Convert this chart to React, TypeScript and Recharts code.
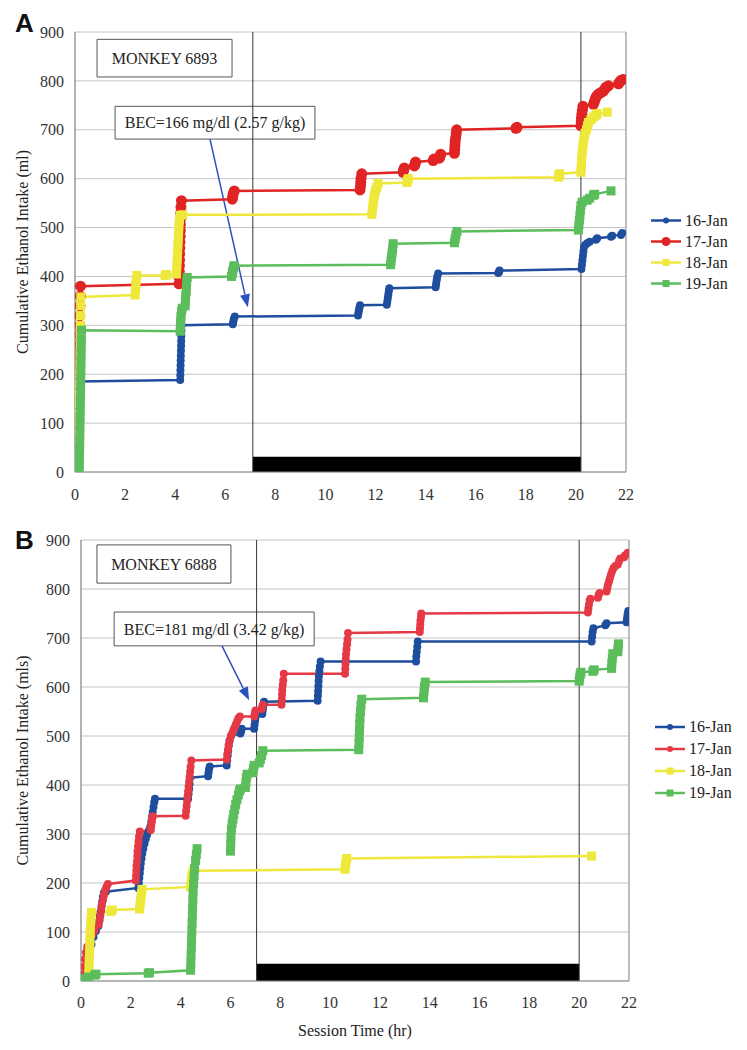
import React from 'react';
import {
  LineChart, Line, XAxis, YAxis, CartesianGrid, ReferenceLine, ReferenceArea, Legend,
} from 'recharts';

type P = [number, number | null];

// ---------- data ----------
const X_TICKS = [0, 2, 4, 6, 8, 10, 12, 14, 16, 18, 20, 22];
const Y_TICKS = [0, 100, 200, 300, 400, 500, 600, 700, 800, 900];
const SERIES_NAMES = ['16-Jan', '17-Jan', '18-Jan', '19-Jan'];

// Panel A (Monkey 6893)
const A_BLUE: P[] = [[0.12,0],[0.125,20],[0.13,40],[0.135,60],[0.14,80],[0.145,100],[0.15,120],[0.155,140],[0.16,160],[0.17,185],
  [4.2,188],[4.205,198],[4.21,208],[4.215,218],[4.22,228],[4.225,238],[4.23,248],[4.235,258],[4.24,268],[4.245,278],[4.25,290],[4.26,300],
  [6.3,302],[6.32,308],[6.34,313],[6.38,318],
  [11.3,320],[11.32,326],[11.34,332],[11.36,337],[11.38,341],
  [12.45,342],[12.47,349],[12.49,356],[12.51,363],[12.53,370],[12.55,376],
  [14.4,378],[14.42,385],[14.44,392],[14.46,399],[14.5,406],
  [16.9,407],[16.93,409],[16.95,412],
  [20.22,415],[20.24,424],[20.26,433],[20.28,442],[20.3,451],[20.32,460],[20.38,465],[20.45,468],[20.55,471],[20.8,475],[20.85,478],[21.4,481],[21.45,483],[21.8,485],[21.85,489]];
const A_RED: P[] = [[0.08,0],[0.09,20],[0.1,40],[0.11,60],[0.115,80],[0.12,100],[0.125,120],[0.13,140],[0.135,160],[0.14,180],[0.145,200],[0.15,220],[0.155,240],[0.16,260],[0.17,280],[0.18,300],[0.19,320],[0.2,340],[0.21,360],[0.22,380],
  [4.15,385],[4.16,398],[4.165,410],[4.17,422],[4.175,434],[4.18,446],[4.185,458],[4.19,470],[4.2,482],[4.205,494],[4.21,506],[4.215,518],[4.22,530],[4.23,542],[4.25,555],
  [6.28,558],[6.3,564],[6.32,570],[6.36,575],
  [11.38,577],[11.4,585],[11.41,593],[11.42,601],[11.45,610],
  [13.1,613],[13.12,618],[13.15,622],[13.55,626],[13.58,630],[13.6,634],[14.3,637],[14.33,640],[14.55,642],[14.58,646],[14.6,650],
  [15.15,652],[15.16,660],[15.17,668],[15.18,676],[15.2,684],[15.22,692],[15.24,700],
  [17.6,703],[17.63,704],[17.65,705],
  [20.2,708],[20.21,716],[20.22,724],[20.24,732],[20.26,740],[20.28,748],
  [20.7,752],[20.74,758],[20.78,764],[20.83,769],[20.9,773],[21.0,776],[21.1,779],[21.15,783],[21.2,787],[21.3,790],[21.7,794],[21.75,798],[21.8,801],[21.88,803]];
const A_YELLOW: P[] = [[0.14,0],[0.145,20],[0.15,40],[0.155,60],[0.16,80],[0.165,100],[0.17,120],[0.175,140],[0.18,160],[0.185,180],[0.19,200],[0.195,220],[0.2,240],[0.205,260],[0.21,280],[0.215,300],[0.22,320],[0.225,340],[0.23,358],
  [2.4,362],[2.42,372],[2.43,382],[2.44,392],[2.47,402],
  [3.6,402],[3.65,404],
  [4.05,405],[4.06,415],[4.07,425],[4.08,435],[4.09,445],[4.1,455],[4.11,465],[4.12,475],[4.13,485],[4.14,495],[4.15,505],[4.17,515],[4.2,525],[4.3,526],
  [11.85,527],[11.87,535],[11.89,543],[11.91,551],[11.93,559],[11.96,567],[12.0,575],[12.05,582],[12.1,590],
  [13.25,592],[13.28,596],[13.3,600],
  [19.3,603],[19.33,607],[19.35,610],
  [20.2,613],[20.21,622],[20.22,631],[20.23,640],[20.24,649],[20.26,658],[20.28,667],[20.3,676],[20.33,685],[20.36,693],[20.42,700],[20.46,708],[20.5,715],[20.6,721],[20.7,726],[20.8,730],[20.85,733],[21.25,736]];
const A_GREEN: P[] = [[0.17,0],[0.175,16],[0.18,32],[0.185,48],[0.19,64],[0.195,80],[0.2,96],[0.205,112],[0.21,128],[0.215,144],[0.22,160],[0.225,176],[0.23,192],[0.235,208],[0.24,224],[0.245,240],[0.25,256],[0.255,272],[0.26,290],
  [4.2,288],[4.21,298],[4.22,308],[4.23,318],[4.25,328],[4.28,335],[4.4,340],[4.41,350],[4.42,360],[4.44,370],[4.45,380],[4.46,390],[4.48,398],
  [6.25,400],[6.28,406],[6.3,412],[6.33,418],[6.35,422],
  [12.6,424],[12.62,432],[12.64,440],[12.66,448],[12.68,456],[12.7,467],
  [15.15,469],[15.18,477],[15.21,485],[15.25,492],
  [20.1,495],[20.12,505],[20.14,515],[20.16,525],[20.18,535],[20.2,545],[20.25,552],[20.45,556],[20.55,560],[20.7,566],[20.75,568],[21.4,575]];

// Panel B (Monkey 6888)
const B_BLUE: P[] = [[0.15,0],[0.2,15],[0.25,30],[0.3,45],[0.35,60],[0.42,75],[0.5,90],[0.6,102],[0.7,112],[0.73,122],[0.76,132],[0.79,142],[0.82,152],[0.85,162],[0.88,172],[0.92,180],[1.0,182],
  [2.3,190],[2.32,200],[2.34,210],[2.36,220],[2.38,230],[2.4,240],[2.43,250],[2.46,260],[2.5,270],[2.55,280],[2.6,290],[2.65,298],[2.72,306],[2.78,315],[2.82,325],[2.85,335],[2.88,345],[2.91,355],[2.94,365],[2.97,372],
  [4.3,372],[4.32,382],[4.34,392],[4.36,402],[4.38,415],
  [5.1,418],[5.12,425],[5.14,432],[5.17,438],
  [5.85,440],[5.87,450],[5.89,460],[5.91,470],[5.93,480],[5.96,490],[6.02,500],
  [6.4,505],[6.43,510],[6.45,515],
  [6.95,515],[6.97,523],[6.99,531],[7.02,540],
  [7.28,545],[7.3,553],[7.32,561],[7.35,570],
  [9.5,572],[9.51,582],[9.52,592],[9.53,602],[9.54,612],[9.55,622],[9.57,632],[9.59,642],[9.62,652],
  [13.45,652],[13.46,662],[13.48,672],[13.5,682],[13.52,693],
  [20.5,693],[20.52,703],[20.54,712],[20.57,720],[21.05,726],[21.1,730],
  [21.9,732],[21.92,740],[21.94,748],[21.97,755]];
const B_RED: P[] = [[0.1,0],[0.12,15],[0.14,30],[0.16,45],[0.2,58],[0.25,70],[0.35,85],[0.45,95],[0.55,103],[0.7,115],[0.75,125],[0.78,135],[0.81,145],[0.84,155],[0.88,165],[0.92,175],[0.97,185],[1.02,192],[1.08,198],
  [2.2,205],[2.21,215],[2.22,225],[2.23,235],[2.25,245],[2.26,255],[2.27,265],[2.29,275],[2.31,285],[2.33,295],[2.36,305],
  [2.8,308],[2.82,316],[2.84,324],[2.86,332],[2.88,336],
  [4.2,337],[4.22,347],[4.24,357],[4.26,367],[4.28,377],[4.3,387],[4.32,397],[4.34,407],[4.36,417],[4.38,427],[4.4,437],[4.43,450],
  [5.85,452],[5.87,462],[5.9,472],[5.93,482],[5.97,492],[6.02,500],[6.08,506],[6.12,512],[6.17,518],[6.22,524],[6.27,530],[6.32,536],[6.38,540],
  [6.95,540],[6.98,546],[7.0,552],[7.25,555],[7.28,560],[7.3,564],
  [8.05,564],[8.06,574],[8.07,584],[8.08,594],[8.1,604],[8.12,614],[8.14,627],
  [10.6,627],[10.61,637],[10.62,647],[10.63,657],[10.64,667],[10.66,677],[10.68,687],[10.7,697],[10.72,710],
  [13.6,712],[13.61,720],[13.62,728],[13.63,736],[13.65,744],[13.66,750],
  [20.35,752],[20.37,760],[20.39,768],[20.42,776],[20.45,780],
  [20.75,782],[20.78,788],[20.82,792],
  [21.1,795],[21.13,802],[21.16,809],[21.2,816],[21.24,823],[21.28,830],[21.33,837],[21.38,843],[21.45,847],[21.55,850],[21.6,857],[21.65,862],[21.8,865],[21.85,869],[21.95,874]];
const B_YELLOW: P[] = [[0.3,0],[0.31,14],[0.32,28],[0.33,42],[0.34,56],[0.35,70],[0.36,84],[0.37,98],[0.38,112],[0.4,126],[0.42,140],
  [1.2,142],[1.25,145],
  [2.35,147],[2.37,155],[2.39,163],[2.41,171],[2.43,179],[2.45,187],
  [4.4,192],[4.42,200],[4.44,208],[4.46,216],[4.5,225],
  [10.6,228],[10.62,236],[10.64,244],[10.67,250],
  [20.5,255]];
const B_GREEN: P[] = [[0.1,2],[0.15,5],[0.3,8],[0.55,12],[0.6,14],[2.7,16],[2.75,17],[4.4,22],
  [4.41,38],[4.42,54],[4.43,70],[4.44,86],[4.45,102],[4.46,118],[4.47,134],[4.48,150],[4.49,166],[4.5,182],[4.52,198],[4.54,214],[4.56,230],[4.6,246],[4.63,258],[4.66,270],
  [5.3,null],
  [6.0,265],[6.01,280],[6.02,295],[6.04,310],[6.07,322],[6.1,330],[6.13,340],[6.17,350],[6.21,360],[6.26,370],[6.32,380],[6.36,388],[6.4,392],
  [6.6,395],[6.62,405],[6.64,415],[6.67,422],
  [6.9,425],[6.92,433],[6.95,440],
  [7.15,445],[7.2,452],[7.25,460],[7.3,470],
  [11.15,472],[11.16,485],[11.17,498],[11.18,511],[11.19,524],[11.2,537],[11.22,550],[11.24,563],[11.27,575],
  [13.75,578],[13.77,590],[13.79,600],[13.82,610],
  [20.0,612],[20.02,619],[20.04,626],[20.07,630],
  [20.55,632],[20.6,635],
  [21.3,638],[21.31,648],[21.33,658],[21.35,668],[21.55,672],[21.56,680],[21.58,688]];

// ---------- styling ----------
const SERIF = '"Liberation Serif", "Times New Roman", Times, serif';
const SANS = '"Liberation Sans", Arial, sans-serif';
const BLUE = '#1f4e9e';
const RED_A = '#e02424';
const RED_B = '#e53a45';
const YELLOW = '#efe83c';
const GREEN = '#5bbd5b';
const ARROW = '#2a52be';

const pts = (arr: P[]) => arr.map(([x, y]) => ({ x, y }));

const circleDot = (color: string, r: number) => (p: any) =>
  p.cx == null || p.cy == null || p.value == null
    ? <g key={`e-${p.index}`} />
    : <circle key={`c-${p.index}`} cx={p.cx} cy={p.cy} r={r} fill={color} stroke="none" />;

const squareDot = (color: string, s: number) => (p: any) =>
  p.cx == null || p.cy == null || p.value == null
    ? <g key={`e-${p.index}`} />
    : <rect key={`s-${p.index}`} x={p.cx - s / 2} y={p.cy - s / 2} width={s} height={s} fill={color} stroke="none" />;

const ArrowShape = (p: any) => {
  const { x1, y1, x2, y2 } = p;
  const ang = Math.atan2(y2 - y1, x2 - x1);
  const L = 13, W = 5;
  const bx = x2 - L * Math.cos(ang), by = y2 - L * Math.sin(ang);
  const px = -Math.sin(ang) * W, py = Math.cos(ang) * W;
  return (
    <g>
      <line x1={x1} y1={y1} x2={bx} y2={by} stroke={ARROW} strokeWidth={1.5} />
      <polygon points={`${x2},${y2} ${bx + px},${by + py} ${bx - px},${by - py}`} fill={ARROW} />
    </g>
  );
};

type Item = { name: string; color: string; kind: 'c' | 's'; size: number };

const makeLegend = (items: Item[], rowH: number) => () => (
  <div style={{ fontFamily: SERIF, fontSize: 16, color: '#222' }}>
    {items.map((it) => (
      <div key={it.name} style={{ display: 'flex', alignItems: 'center', height: rowH }}>
        <svg width={30} height={rowH} style={{ display: 'block' }}>
          <line x1={0} x2={30} y1={rowH / 2} y2={rowH / 2} stroke={it.color} strokeWidth={2.5} />
          {it.kind === 'c'
            ? <circle cx={15} cy={rowH / 2} r={it.size} fill={it.color} />
            : <rect x={15 - it.size / 2} y={rowH / 2 - it.size / 2} width={it.size} height={it.size} fill={it.color} />}
        </svg>
        <span style={{ marginLeft: 4, lineHeight: 1, fontFamily: SERIF }}>{it.name}</span>
      </div>
    ))}
  </div>
);

const tickStyle = { fill: '#333', fontSize: 16, fontFamily: SERIF };

type PanelProps = {
  height: number;
  margin: { top: number; right: number; bottom: number; left: number };
  yWidth: number;
  xHeight: number;
  xTickMargin: number;
  yLabel: string;
  xLabel?: string;
  series: { data: P[]; color: string; kind: 'c' | 's'; size: number }[];
  nightStart: number;
  nightEnd: number;
  barTop: number;
  monkey: string;
  monkeyBox: [number, number, number, number];
  bec: string;
  becBox: [number, number, number, number];
  arrow: [{ x: number; y: number }, { x: number; y: number }];
  legendItems: Item[];
  legendPos: { left: number; top: number };
  legendRowH: number;
};

const Panel = (pp: PanelProps) => (
  <LineChart width={747} height={pp.height} margin={pp.margin} style={{ fontFamily: SERIF }}>
    <CartesianGrid horizontal vertical={false} stroke="#c4c4c4" strokeWidth={1} />
    <XAxis
      type="number" dataKey="x" domain={[0, 22]} ticks={X_TICKS} allowDataOverflow
      tickLine={false} axisLine={{ stroke: '#8a8a8a' }} tick={tickStyle}
      tickMargin={pp.xTickMargin} height={pp.xHeight}
      label={pp.xLabel ? { value: pp.xLabel, position: 'insideBottom', offset: 5, fill: '#222', fontSize: 16, fontFamily: SERIF } : undefined}
    />
    <YAxis
      type="number" dataKey="y" domain={[0, 900]} ticks={Y_TICKS} allowDataOverflow
      tickLine={false} axisLine={{ stroke: '#666' }} tick={tickStyle} tickMargin={5} width={pp.yWidth}
      label={{ value: pp.yLabel, angle: -90, position: 'center', dx: -(pp.yWidth / 2 - 22), fill: '#222', fontSize: 16, fontFamily: SERIF }}
    />
    <ReferenceLine x={22} stroke="#a8a8a8" strokeWidth={1.5} ifOverflow="visible" />
    <ReferenceArea x1={pp.nightStart} x2={pp.nightEnd} y1={0} y2={pp.barTop} fill="#000" fillOpacity={1} stroke="none" />
    <ReferenceLine x={pp.nightStart} stroke="#333" strokeWidth={1} />
    <ReferenceLine x={pp.nightEnd} stroke="#333" strokeWidth={1} />
    <ReferenceArea
      x1={pp.monkeyBox[0]} x2={pp.monkeyBox[1]} y1={pp.monkeyBox[2]} y2={pp.monkeyBox[3]}
      fill="#fff" fillOpacity={1} stroke="#555" strokeWidth={1} ifOverflow="visible"
      label={{ value: pp.monkey, position: 'center', fill: '#222', fontSize: 16, fontFamily: SERIF }}
    />
    <ReferenceArea
      x1={pp.becBox[0]} x2={pp.becBox[1]} y1={pp.becBox[2]} y2={pp.becBox[3]}
      fill="#fff" fillOpacity={1} stroke="#555" strokeWidth={1} ifOverflow="visible"
      label={{ value: pp.bec, position: 'center', fill: '#222', fontSize: 16, fontFamily: SERIF }}
    />
    <ReferenceLine segment={pp.arrow} shape={ArrowShape} ifOverflow="visible" />
    {pp.series.map((s, i) => (
      <Line
        key={i}
        data={pts(s.data)}
        dataKey="y"
        type="linear"
        stroke={s.color}
        strokeWidth={2.5}
        dot={s.kind === 'c' ? circleDot(s.color, s.size) : squareDot(s.color, s.size)}
        activeDot={false}
        isAnimationActive={false}
        connectNulls={false}
        name={SERIES_NAMES[i]}
      />
    ))}
    <Legend
      layout="vertical" align="center" verticalAlign="middle"
      wrapperStyle={{ left: pp.legendPos.left, top: pp.legendPos.top, width: 96 }}
      content={makeLegend(pp.legendItems, pp.legendRowH)}
    />
  </LineChart>
);

export default function App() {
  return (
    <div style={{ position: 'absolute', left: 0, top: 0, width: 747, height: 1050, background: '#fff', overflow: 'hidden', fontFamily: SERIF }}>
      <div style={{ position: 'absolute', left: 0, top: 0 }}>
        <Panel
          height={520}
          margin={{ top: 32, right: 121, bottom: 18, left: 0 }}
          yWidth={75}
          xHeight={30}
          xTickMargin={11}
          yLabel="Cumulative Ethanol Intake (ml)"
          series={[
            { data: A_BLUE, color: BLUE, kind: 'c', size: 4 },
            { data: A_RED, color: RED_A, kind: 'c', size: 5.5 },
            { data: A_YELLOW, color: YELLOW, kind: 's', size: 9 },
            { data: A_GREEN, color: GREEN, kind: 's', size: 9 },
          ]}
          nightStart={7.1}
          nightEnd={20.2}
          barTop={31}
          monkey="MONKEY 6893"
          monkeyBox={[0.88, 6.27, 808, 885]}
          bec="BEC=166 mg/dl (2.57 g/kg)"
          becBox={[1.6, 9.58, 681, 748]}
          arrow={[{ x: 5.39, y: 681 }, { x: 6.9, y: 337 }]}
          legendItems={[
            { name: '16-Jan', color: BLUE, kind: 'c', size: 3 },
            { name: '17-Jan', color: RED_A, kind: 'c', size: 4.5 },
            { name: '18-Jan', color: YELLOW, kind: 's', size: 7 },
            { name: '19-Jan', color: GREEN, kind: 's', size: 7 },
          ]}
          legendPos={{ left: 651, top: 210 }}
          legendRowH={21}
        />
      </div>
      <div style={{ position: 'absolute', left: 0, top: 520 }}>
        <Panel
          height={530}
          margin={{ top: 20, right: 118, bottom: 9, left: 0 }}
          yWidth={81}
          xHeight={60}
          xTickMargin={10}
          yLabel="Cumulative Ethanol Intake (mls)"
          xLabel="Session Time (hr)"
          series={[
            { data: B_BLUE, color: BLUE, kind: 'c', size: 4 },
            { data: B_RED, color: RED_B, kind: 'c', size: 4 },
            { data: B_YELLOW, color: YELLOW, kind: 's', size: 9 },
            { data: B_GREEN, color: GREEN, kind: 's', size: 9 },
          ]}
          nightStart={7.05}
          nightEnd={20.0}
          barTop={35}
          monkey="MONKEY 6888"
          monkeyBox={[0.64, 6.02, 812, 890]}
          bec="BEC=181 mg/dl (3.42 g/kg)"
          becBox={[1.33, 9.36, 684, 753]}
          arrow={[{ x: 5.66, y: 684 }, { x: 6.75, y: 573 }]}
          legendItems={[
            { name: '16-Jan', color: BLUE, kind: 'c', size: 3 },
            { name: '17-Jan', color: RED_B, kind: 'c', size: 3 },
            { name: '18-Jan', color: YELLOW, kind: 's', size: 7 },
            { name: '19-Jan', color: GREEN, kind: 's', size: 7 },
          ]}
          legendPos={{ left: 655, top: 196 }}
          legendRowH={22}
        />
      </div>
      <svg width={747} height={1050} style={{ position: 'absolute', left: 0, top: 0, pointerEvents: 'none' }}>
        <text x={15} y={32} fontFamily={SANS} fontWeight="bold" fontSize={26} fill="#111">A</text>
        <text x={15} y={549} fontFamily={SANS} fontWeight="bold" fontSize={26} fill="#111">B</text>
      </svg>
    </div>
  );
}
